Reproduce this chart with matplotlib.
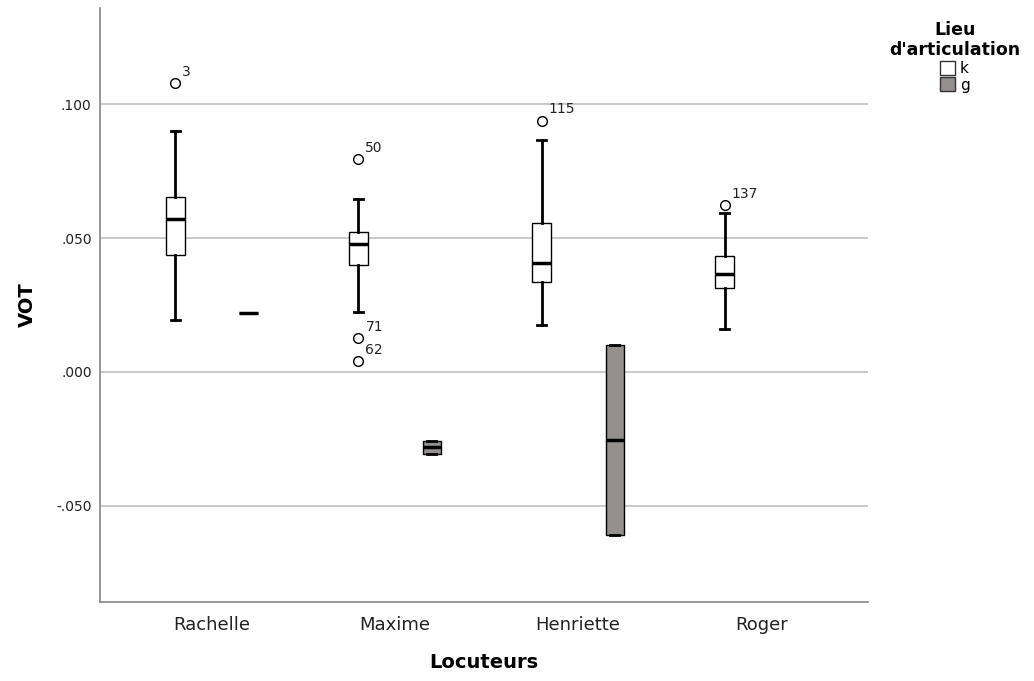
import matplotlib.pyplot as plt
from matplotlib.patches import Patch

# Speakers and place of articulation
locuteurs = ["Rachelle", "Maxime", "Henriette", "Roger"]
lieux = ["k", "g"]

# Five-number summaries per speaker (whislo, q1, med, q3, whishi); None = no data
k_stats = [
    (0.0194, 0.0437, 0.0572, 0.0655, 0.0901),
    (0.0226, 0.0398, 0.0477, 0.0522, 0.0647),
    (0.0176, 0.0335, 0.0407, 0.0557, 0.0866),
    (0.0160, 0.0313, 0.0368, 0.0434, 0.0593),
]
g_stats = [
    (0.0220, 0.0220, 0.0220, 0.0220, 0.0220),
    (-0.0307, -0.0307, -0.0281, -0.0257, -0.0257),
    (-0.0608, -0.0608, -0.0255, 0.0099, 0.0099),
    None,
]

# Outliers of the k group: (speaker index, value, case number)
k_outliers = [
    (0, 0.1079, "3"),
    (1, 0.0797, "50"),
    (1, 0.0126, "71"),
    (1, 0.0042, "62"),
    (2, 0.0940, "115"),
    (3, 0.0623, "137"),
]

couleurs = {"k": "white", "g": "#958f8e"}
decalage = {"k": -0.2, "g": 0.2}

fig = plt.figure(figsize=(10.34, 6.81), dpi=100)
ax = fig.add_axes([0.0967, 0.116, 0.743, 0.872])

for lieu, stats in (("k", k_stats), ("g", g_stats)):
    boxes, positions = [], []
    for i, s in enumerate(stats):
        if s is None:
            continue
        lo, q1, med, q3, hi = s
        fl = [v for (j, v, _) in k_outliers if j == i] if lieu == "k" else []
        boxes.append(dict(whislo=lo, q1=q1, med=med, q3=q3, whishi=hi, fliers=fl))
        positions.append(i + decalage[lieu])
    ax.bxp(boxes, positions=positions, widths=0.1, capwidths=0.05,
           patch_artist=True, manage_ticks=False,
           boxprops=dict(facecolor=couleurs[lieu], edgecolor="black", linewidth=1),
           medianprops=dict(color="black", linewidth=2.5),
           whiskerprops=dict(color="black", linewidth=2),
           capprops=dict(color="black", linewidth=2),
           flierprops=dict(marker="o", markerfacecolor="white",
                           markeredgecolor="black", markersize=7, markeredgewidth=1))

for i, v, num in k_outliers:
    ax.annotate(num, (i + decalage["k"], v), xytext=(5, 3), textcoords="offset points",
                fontsize=10, color="#222222", ha="left", va="bottom")

ax.set_xlim(-0.612, 3.585)
ax.set_ylim(-0.086, 0.136)
ax.set_yticks([-0.05, 0.0, 0.05, 0.1])
ax.set_yticklabels(["-.050", ".000", ".050", ".100"])
ax.set_xticks(range(len(locuteurs)))
ax.set_xticklabels(locuteurs, fontsize=13)
ax.tick_params(axis="both", length=0, colors="#222222")
ax.tick_params(axis="y", labelsize=10, pad=6)
ax.tick_params(axis="x", pad=10)
ax.yaxis.grid(True, color="#c0c0c0", linewidth=1.2)
ax.set_axisbelow(True)
for side in ("top", "right"):
    ax.spines[side].set_visible(False)
for side in ("left", "bottom"):
    ax.spines[side].set_color("#888888")
    ax.spines[side].set_linewidth(1.2)

ax.set_ylabel("VOT", fontsize=14, fontweight="bold", labelpad=14)
ax.set_xlabel("Locuteurs", fontsize=14, fontweight="bold", labelpad=14)

handles = [Patch(facecolor=couleurs[l], edgecolor="#333333", label=l) for l in lieux]
leg = fig.legend(handles=handles, title="Lieu\nd'articulation", loc="upper right",
                 bbox_to_anchor=(1.0, 0.99), frameon=False, fontsize=11,
                 handlelength=1.0, handleheight=1.0, handletextpad=0.3,
                 labelspacing=0.1, title_fontproperties=dict(weight="bold", size=12.5))
leg.get_title().set_multialignment("center")
leg._legend_box.align = "center"

fig.savefig("out.png", dpi=100)
